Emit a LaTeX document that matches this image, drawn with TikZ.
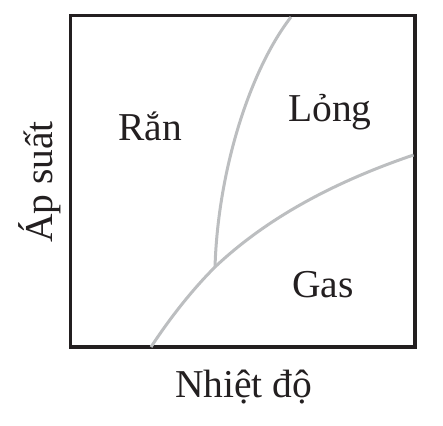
\documentclass[tikz,border=0pt]{standalone}
\usepackage{fontspec}
\setmainfont{Liberation Serif}
\definecolor{boxcol}{HTML}{231F20}
\definecolor{curvecol}{HTML}{BCBEC0}
\begin{document}
\begin{tikzpicture}[x=1pt,y=-1pt,
  lbl/.style={inner sep=0pt, anchor=base west, font=\fontsize{39.5}{42}\selectfont, text=boxcol},
  phase/.style={draw=curvecol, line width=3pt},
  frame/.style={draw=boxcol, line width=3.4pt}]
\useasboundingbox (0,0) rectangle (443,425);
\coordinate (bl) at (70.5,347);
\coordinate (tr) at (415,15.5);
\draw[frame] (bl) rectangle (tr);
\coordinate (gasstart) at (151,347);
\coordinate (triple) at (215,267);
\coordinate (gasend) at (413.5,155);
\coordinate (liqend) at (291,17);
\draw[phase] (gasstart) .. controls (170,318) and (192,290) .. (triple)
  .. controls (270,215) and (340,180) .. (gasend);
\draw[phase] (triple) .. controls (218,170) and (250,70) .. (liqend);
\node[lbl] (ran) at (118,140) {Rắn};
\node[lbl] (long) at (288,121) {Lỏng};
\node[lbl] (gas) at (292,297) {Gas};
\node[lbl] (nhiet) at (175,397) {Nhiệt độ};
\node[lbl, rotate=90] (ap) at (52,243) {Áp suất};
\end{tikzpicture}
\end{document}
